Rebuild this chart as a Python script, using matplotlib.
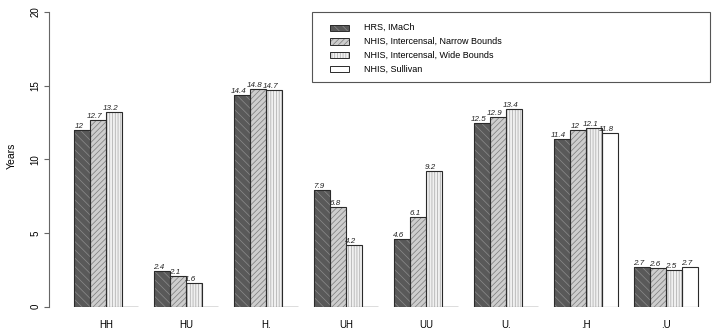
import matplotlib.pyplot as plt
from matplotlib.patches import Rectangle

plt.rcParams['font.family'] = ['Liberation Sans', 'DejaVu Sans']
plt.rcParams['hatch.linewidth'] = 0.5

groups = ['HH', 'HU', 'H.', 'UH', 'UU', 'U.', '.H', '.U']
series = ['HRS, IMaCh', 'NHIS, Intercensal, Narrow Bounds',
          'NHIS, Intercensal, Wide Bounds', 'NHIS, Sullivan']
imach = [12, 2.4, 14.4, 7.9, 4.6, 12.5, 11.4, 2.7]
narrow = [12.7, 2.1, 14.8, 6.8, 6.1, 12.9, 12, 2.6]
wide = [13.2, 1.6, 14.7, 4.2, 9.2, 13.4, 12.1, 2.5]
sullivan = [None, None, None, None, None, None, 11.8, 2.7]

faces = ['#595959', '#cdcdcd', '#f0f0f0', 'white']
hcols = ['#8c8c8c', '#7a7a7a', '#a8a8a8', 'white']
hatches = ['\\\\\\\\', '//////', '||||||', '']

W, H = 718, 336
fig = plt.figure(figsize=(W / 100, H / 100), dpi=100)
ax = fig.add_axes([49 / W, (H - 306.7) / H, (713 - 49) / W, 294.7 / H])
ax.set_xlim(-0.5625, 40.9375)
ax.set_ylim(0, 20)

data = [imach, narrow, wide, sullivan]
for i, g in enumerate(groups):
    left = 1 + 5 * i
    ax.hlines(0, left, left + 4, color='#555555', lw=1.0, zorder=1)
    for j, vals in enumerate(data):
        v = vals[i]
        if v is None:
            continue
        x = left + j
        ax.bar(x, v, width=1, align='edge', color=faces[j], edgecolor=hcols[j],
               hatch=hatches[j], linewidth=0, zorder=2)
        ax.bar(x, v, width=1, align='edge', fill=False, edgecolor='#2a2a2a',
               linewidth=0.8, zorder=3)
        ax.text(x + 0.3, v, f'{v:g}', ha='center', va='bottom', fontsize=5.8,
                style='italic', color='#222222')

for s in ['top', 'right', 'bottom']:
    ax.spines[s].set_visible(False)
ax.spines['left'].set_bounds(0, 20)
ax.spines['left'].set_color('#666666')
ax.set_yticks([0, 5, 10, 15, 20])
ax.tick_params(axis='y', length=3.8, color='#666666', labelsize=7,
               labelrotation=90, pad=2.5)
for t in ax.get_yticklabels():
    t.set_va('center')
ax.set_xticks([3 + 5 * i for i in range(len(groups))])
ax.set_xticklabels(groups)
ax.tick_params(axis='x', length=0, labelsize=7, pad=9.5)
fig.text(12 / W, 1 - 156 / H, 'Years', rotation=90, ha='center', va='center',
         fontsize=7.5)

# legend box drawn by hand to match the R layout
fig.patches.append(Rectangle((312 / W, 1 - 81.7 / H), 398 / W, 70 / H,
                             transform=fig.transFigure, fill=False,
                             edgecolor='#555555', lw=0.8))
for k, name in enumerate(series):
    yc = 27.7 + 13.8 * k
    fig.patches.append(Rectangle((330 / W, 1 - (yc + 3) / H), 19 / W, 6 / H,
                                 transform=fig.transFigure, facecolor=faces[k],
                                 edgecolor=hcols[k], hatch=hatches[k], lw=0))
    fig.patches.append(Rectangle((330 / W, 1 - (yc + 3) / H), 19 / W, 6 / H,
                                 transform=fig.transFigure, fill=False,
                                 edgecolor='#2a2a2a', lw=0.7))
    fig.text(364 / W, 1 - yc / H, name, ha='left', va='center', fontsize=6.5)

fig.savefig('out.png', dpi=100)
